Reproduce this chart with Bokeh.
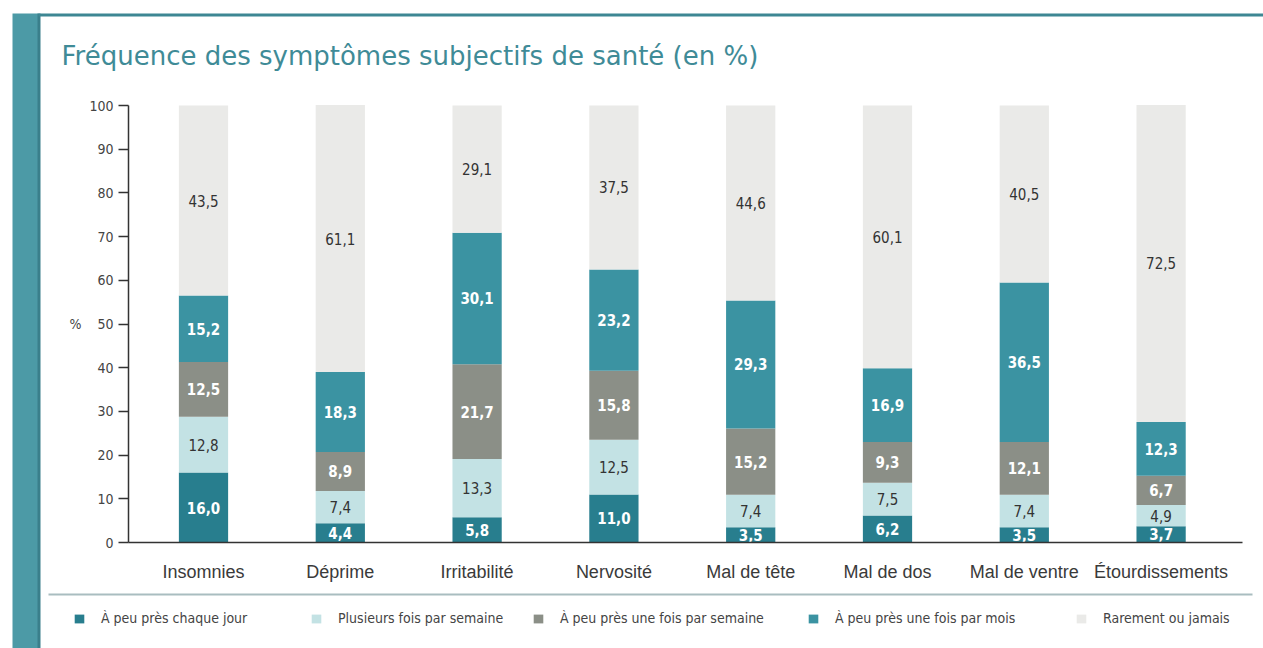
from bokeh.plotting import figure
from bokeh.models import (ColumnDataSource, Range1d, Legend, LegendItem,
                          Label, BoxAnnotation, FixedTicker)
from bokeh.core.properties import value
from bokeh.embed import file_html
from bokeh.resources import INLINE

categories = ["Insomnies", "Déprime", "Irritabilité", "Nervosité",
              "Mal de tête", "Mal de dos", "Mal de ventre", "Étourdissements"]
series_names = ["À peu près chaque jour", "Plusieurs fois par semaine",
                "À peu près une fois par semaine", "À peu près une fois par mois",
                "Rarement ou jamais"]
chaque_jour = [16.0, 4.4, 5.8, 11.0, 3.5, 6.2, 3.5, 3.7]
plusieurs_par_semaine = [12.8, 7.4, 13.3, 12.5, 7.4, 7.5, 7.4, 4.9]
une_fois_par_semaine = [12.5, 8.9, 21.7, 15.8, 15.2, 9.3, 12.1, 6.7]
une_fois_par_mois = [15.2, 18.3, 30.1, 23.2, 29.3, 16.9, 36.5, 12.3]
rarement = [43.5, 61.1, 29.1, 37.5, 44.6, 60.1, 40.5, 72.5]
y_ticks = [0, 10, 20, 30, 40, 50, 60, 70, 80, 90, 100]
title_text = "Fréquence des symptômes subjectifs de santé (en %)"

series = [chaque_jour, plusieurs_par_semaine, une_fois_par_semaine,
          une_fois_par_mois, rarement]
keys = ["s0", "s1", "s2", "s3", "s4"]
colors = ["#287e8e", "#c3e2e4", "#8b8f87", "#3b93a2", "#eaeae8"]
white_label = [True, False, True, True, False]

COND = "'DejaVu Sans Condensed', 'Liberation Sans Narrow', 'DejaVu Sans', sans-serif"
TEAL = "#3f8b97"

# ---- layout (canvas pixels) ----
W, H = 1263, 648
PX_PER_CAT = 136.8          # horizontal distance between bar centres
X0_PX = 203                 # canvas x of first bar centre
PX_PER_UNIT = 4.37          # vertical pixels per percentage point
Y0_PX = 542                 # canvas y of the 0 % line
AXIS_LEFT_PX = 128          # canvas x of the y axis line
AXIS_RIGHT_PX = 1242        # canvas x where the x axis line ends

x_start = -X0_PX / PX_PER_CAT
x_end = x_start + W / PX_PER_CAT
y_start = -(H - Y0_PX) / PX_PER_UNIT
y_end = y_start + H / PX_PER_UNIT
y_axis_at = (AXIS_LEFT_PX - X0_PX) / PX_PER_CAT
x_axis_end = (AXIS_RIGHT_PX - X0_PX) / PX_PER_CAT

xs = list(range(len(categories)))
data = {"x": xs}
for k, s in zip(keys, series):
    data[k] = s
source = ColumnDataSource(data)

p = figure(x_range=Range1d(x_start, x_end), y_range=Range1d(y_start, y_end),
           width=W, height=H, title=None,
           output_backend="svg", toolbar_location=None,
           min_border=0, min_border_left=0, min_border_right=0,
           min_border_top=0, min_border_bottom=0,
           outline_line_color=None, background_fill_color="white",
           border_fill_color="white")

renderers = p.vbar_stack(keys, x="x", width=0.36, color=colors, line_color=None,
                         source=source)

# segment labels
light = {"x": [], "y": [], "t": []}
dark = {"x": [], "y": [], "t": []}
for i in xs:
    bottom = 0.0
    for j, s in enumerate(series):
        v = s[i]
        d = light if white_label[j] else dark
        d["x"].append(i)
        d["y"].append(bottom + v / 2)
        d["t"].append(f"{v:.1f}".replace(".", ","))
        bottom += v

p.text(x="x", y="y", text="t", source=ColumnDataSource(light), text_align="center",
       text_baseline="middle", text_color="white", text_font=value(COND),
       text_font_size="15px", text_font_style="bold")
p.text(x="x", y="y", text="t", source=ColumnDataSource(dark), text_align="center",
       text_baseline="middle", text_color="#333333", text_font=value(COND),
       text_font_size="15px")

# axes (drawn inside the frame at fixed locations)
p.xgrid.visible = False
p.ygrid.visible = False

yax = p.yaxis[0]
yax.fixed_location = y_axis_at
yax.bounds = (0, 100)
yax.ticker = FixedTicker(ticks=y_ticks)
yax.major_tick_out = 10
yax.major_tick_in = 0
yax.minor_tick_line_color = None
yax.major_label_standoff = 5
yax.major_label_text_font = COND
yax.major_label_text_font_size = "14px"
yax.major_label_text_color = "#444444"
yax.axis_line_color = "#333333"
yax.axis_line_width = 1.5
yax.major_tick_line_color = "#333333"
yax.major_tick_line_width = 1.5

xax = p.xaxis[0]
xax.fixed_location = 0
xax.bounds = (y_axis_at, x_axis_end)
xax.ticker = FixedTicker(ticks=xs)
xax.major_label_overrides = {i: c for i, c in zip(xs, categories)}
xax.major_tick_line_color = None
xax.minor_tick_line_color = None
xax.major_label_standoff = 13
xax.major_label_text_font = "Liberation Sans"
xax.major_label_text_font_size = "18px"
xax.major_label_text_color = "#3a3a3a"
xax.axis_line_color = "#333333"
xax.axis_line_width = 1.5

# "%" y label
p.add_layout(Label(x=75, y=50, x_units="screen", y_units="data", text="%",
                   text_align="center", text_baseline="middle", text_font=COND,
                   text_font_size="14px", text_color="#444444"))

# title
p.add_layout(Label(x=61, y=H - 55, x_units="screen", y_units="screen", text=title_text,
                   text_align="left", text_baseline="middle", text_font="DejaVu Sans",
                   text_font_size="26px", text_color=TEAL))

# decorations: left strip, top rule, separator
def sbox(left, right, top, bottom, color):
    return BoxAnnotation(left=left, right=right, top=top, bottom=bottom,
                         left_units="screen", right_units="screen",
                         top_units="screen", bottom_units="screen",
                         fill_color=color, fill_alpha=1, line_color=None)

p.add_layout(sbox(12, 38, H - 13, -5, "#4c9aa6"))
p.add_layout(sbox(37, 40, H - 13, -5, "#3a7f8b"))
p.add_layout(sbox(38, W + 5, H - 13, H - 16, "#3d8793"))
p.add_layout(sbox(48, 1252, H - 593, H - 595, "#a9bdc0"))

# legend: one entry per box so each sits where the reference puts it
legend_x = [73, 310, 532, 807, 1075]
for name, r, lx in zip(series_names, renderers, legend_x):
    lg = Legend(items=[LegendItem(label=name, renderers=[r])], location=(lx, H - 626),
                orientation="horizontal", glyph_width=12, glyph_height=11,
                label_standoff=16, padding=0, margin=0, label_height=12,
                label_text_font=COND, label_text_font_size="14px",
                label_text_color="#444444", background_fill_alpha=0,
                border_line_color=None)
    p.add_layout(lg, "center")

open("out.html", "w").write(file_html(p, INLINE))
